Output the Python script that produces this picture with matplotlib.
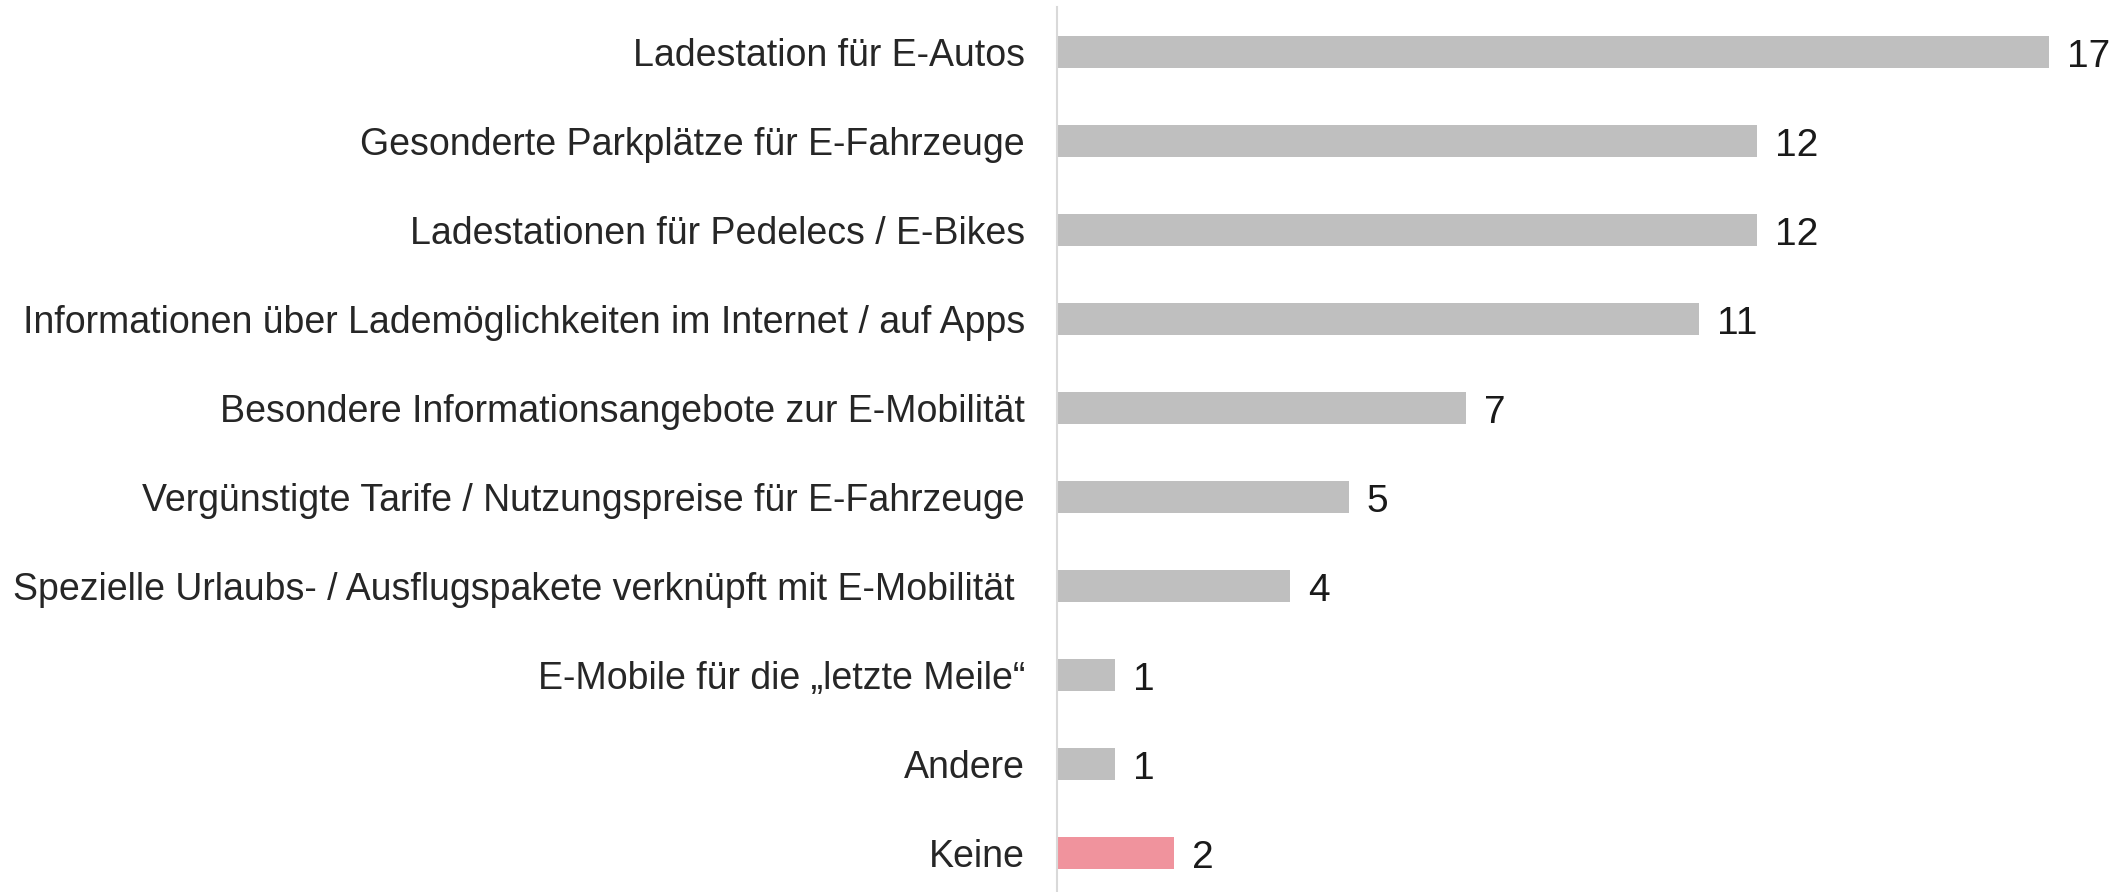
import matplotlib
matplotlib.use("Agg")
import matplotlib.pyplot as plt

categories = [
    "Ladestation für E-Autos",
    "Gesonderte Parkplätze für E-Fahrzeuge",
    "Ladestationen für Pedelecs / E-Bikes",
    "Informationen über Lademöglichkeiten im Internet / auf Apps",
    "Besondere Informationsangebote zur E-Mobilität",
    "Vergünstigte Tarife / Nutzungspreise für E-Fahrzeuge",
    "Spezielle Urlaubs- / Ausflugspakete verknüpft mit E-Mobilität ",
    "E-Mobile für die „letzte Meile“",
    "Andere",
    "Keine",
]
values = [17, 12, 12, 11, 7, 5, 4, 1, 1, 2]
colors = ["#BFBFBF"] * 9 + ["#F0939D"]

plt.rcParams["font.family"] = ["Liberation Sans", "DejaVu Sans"]

fig = plt.figure(figsize=(21.28, 8.92), dpi=100)
ax = fig.add_axes([1057 / 2128, -5.5 / 892, 1 - 1057 / 2128, 890 / 892])

y = list(range(len(categories)))
ax.barh(y, values, height=0.36, color=colors)
ax.set_ylim(len(categories) - 0.5, -0.5)
ax.set_xlim(0, 18.35)

ax.set_yticks(y)
ax.set_yticklabels(categories, fontsize=27, color="#262626")
ax.tick_params(axis="y", length=0, pad=23)
ax.set_xticks([])

for s in ["top", "right", "bottom"]:
    ax.spines[s].set_visible(False)
ax.spines["left"].set_color("#D9D9D9")
ax.spines["left"].set_linewidth(1.5)

for yi, v in zip(y, values):
    ax.annotate(str(v), (v, yi), xytext=(13, -1), textcoords="offset points",
                va="center_baseline", ha="left", fontsize=28, color="#1a1a1a")

fig.savefig("out.png", dpi=100)
